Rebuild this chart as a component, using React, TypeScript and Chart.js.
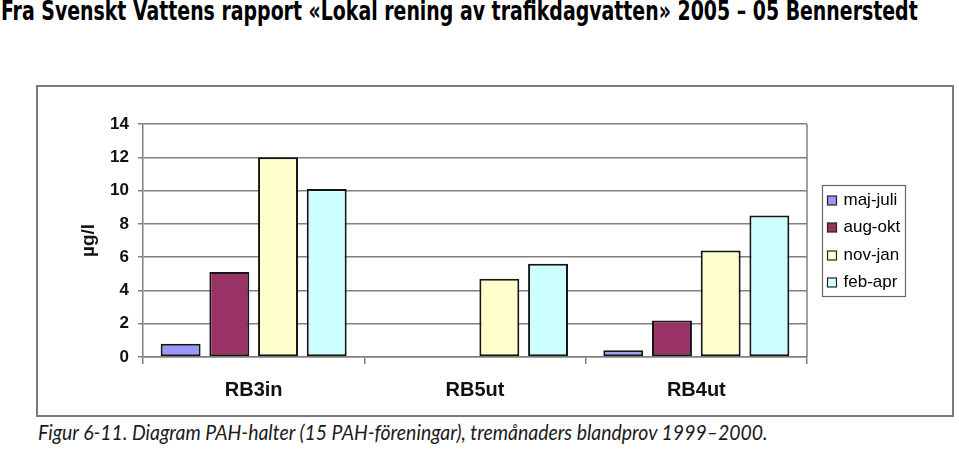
import React, { useEffect, useLayoutEffect, useRef } from "react";
import { Chart, registerables } from "chart.js";

Chart.register(...registerables);

// ---- data ----
const categories = ["RB3in", "RB5ut", "RB4ut"];
const seriesNames = ["maj-juli", "aug-okt", "nov-jan", "feb-apr"];
const majJuli = [0.8, 0, 0.4];
const augOkt = [5.1, 0, 2.2];
const novJan = [12.0, 4.7, 6.4];
const febApr = [10.1, 5.6, 8.5];
const seriesColors = ["#9999FF", "#993366", "#FFFFCC", "#CCFFFF"];
const yMin = 0;
const yMax = 14;
const yStep = 2;
const yTitle = "µg/l";
const titleText =
  "Fra Svenskt Vattens rapport «Lokal rening av trafikdagvatten» 2005 – 05 Bennerstedt";
const captionText =
  "Figur 6-11. Diagram PAH-halter (15 PAH-föreningar), tremånaders blandprov 1999–2000.";

const ARIAL = "'Liberation Sans', Arial, sans-serif";

const boxLegend = {
  id: "boxLegend",
  afterDraw(chart: any) {
    const { ctx, chartArea } = chart;
    const ds = chart.data.datasets;
    ctx.save();
    // right border of the plot area
    ctx.strokeStyle = "#808080";
    ctx.lineWidth = 1.5;
    ctx.beginPath();
    ctx.moveTo(chartArea.right, chartArea.top);
    ctx.lineTo(chartArea.right, chartArea.bottom);
    ctx.stroke();

    ctx.font = "17px " + ARIAL;
    let maxW = 0;
    ds.forEach((d: any) => {
      maxW = Math.max(maxW, ctx.measureText(d.label).width);
    });
    const rowH = 27.4;
    const w = Math.round(21 + maxW + 5);
    const h = Math.round(rowH * ds.length + 1);
    const left = Math.round(chartArea.right + 15) + 0.5;
    const top = Math.round((chartArea.top + chartArea.bottom) / 2 - h / 2) + 0.5;
    ctx.fillStyle = "#fff";
    ctx.fillRect(left, top, w, h);
    ctx.strokeStyle = "#666";
    ctx.lineWidth = 1.2;
    ctx.strokeRect(left, top, w, h);
    ds.forEach((d: any, i: number) => {
      const cy = top + rowH * (i + 0.5) + 1;
      ctx.fillStyle = d.backgroundColor;
      ctx.fillRect(left + 5, Math.round(cy - 4.5), 9, 9);
      ctx.strokeStyle = "#222";
      ctx.lineWidth = 1.2;
      ctx.strokeRect(left + 5, Math.round(cy - 4.5), 9, 9);
      ctx.fillStyle = "#000";
      ctx.textBaseline = "middle";
      ctx.textAlign = "left";
      ctx.fillText(d.label, left + 21, cy);
    });
    ctx.restore();
  },
};

function FitText(props: { text: string; width: number; style: React.CSSProperties }) {
  const ref = useRef<HTMLSpanElement | null>(null);
  useLayoutEffect(() => {
    const fit = () => {
      const el = ref.current;
      if (!el) return;
      el.style.transform = "none";
      const w = el.offsetWidth;
      if (w > 0) el.style.transform = `scaleX(${props.width / w})`;
    };
    fit();
    if ((document as any).fonts && (document as any).fonts.ready) {
      (document as any).fonts.ready.then(fit);
    }
  }, [props.text, props.width]);
  return (
    <span
      ref={ref}
      style={{
        display: "inline-block",
        whiteSpace: "nowrap",
        transformOrigin: "0 0",
        ...props.style,
      }}
    >
      {props.text}
    </span>
  );
}

export default function App() {
  const canvasRef = useRef<HTMLCanvasElement | null>(null);

  useEffect(() => {
    if (!canvasRef.current) return;
    const seriesData = [majJuli, augOkt, novJan, febApr];
    const chart = new Chart(canvasRef.current, {
      type: "bar",
      data: {
        labels: categories,
        datasets: seriesNames.map((name, i) => ({
          label: name,
          data: seriesData[i],
          backgroundColor: seriesColors[i],
          borderColor: "#151515",
          borderWidth: 2,
          borderSkipped: false,
          categoryPercentage: 0.88,
          barPercentage: 0.82,
        })),
      },
      options: {
        animation: false,
        responsive: false,
        maintainAspectRatio: false,
        layout: { padding: { left: 35, right: 145, top: 37, bottom: 0 } },
        plugins: {
          legend: { display: false },
          tooltip: { enabled: false },
        },
        scales: {
          x: {
            grid: {
              offset: true,
              drawOnChartArea: false,
              drawTicks: true,
              tickLength: 7,
              color: "#808080",
              lineWidth: 1.5,
            },
            border: { display: true, color: "#808080", width: 1.5 },
            ticks: {
              font: { family: ARIAL, size: 20, weight: "bold" },
              color: "#111",
              padding: 14,
            },
            afterFit: (s: any) => {
              s.height = 58;
            },
          },
          y: {
            min: yMin,
            max: yMax,
            ticks: {
              stepSize: yStep,
              font: { family: ARIAL, size: 17, weight: "bold" },
              color: "#111",
              padding: 9,
            },
            grid: { color: "#808080", lineWidth: 1.5, tickLength: 5 },
            border: { display: true, color: "#808080", width: 1.5 },
            title: {
              display: true,
              text: yTitle,
              font: { family: ARIAL, size: 19, weight: "bold" },
              color: "#111",
              padding: 4,
            },
            afterFit: (s: any) => {
              s.width = 70;
            },
          },
        },
      } as any,
      plugins: [boxLegend],
    });
    return () => chart.destroy();
  }, []);

  return (
    <div
      style={{
        position: "absolute",
        left: 0,
        top: 0,
        width: 959,
        height: 452,
        background: "#fff",
        overflow: "hidden",
      }}
    >
      <div style={{ position: "absolute", left: 1, top: -4, lineHeight: "30px" }}>
        <FitText
          text={titleText}
          width={917}
          style={{
            fontFamily: "'Liberation Sans Narrow', 'DejaVu Sans Condensed', sans-serif",
            fontWeight: "bold",
            fontSize: 26,
            color: "#000",
          }}
        />
      </div>
      <div
        style={{
          position: "absolute",
          left: 36,
          top: 85,
          width: 914,
          height: 328,
          border: "2px solid #7a7a7a",
          background: "#fff",
        }}
      >
        <canvas
          ref={canvasRef}
          width={914}
          height={328}
          style={{ display: "block", width: 914, height: 328 }}
        />
      </div>
      <div style={{ position: "absolute", left: 38, top: 418, lineHeight: "28px" }}>
        <FitText
          text={captionText}
          width={730}
          style={{
            fontFamily: "Lato, 'Open Sans', sans-serif",
            fontStyle: "italic",
            fontSize: 21,
            color: "#1a1a1a",
          }}
        />
      </div>
    </div>
  );
}
